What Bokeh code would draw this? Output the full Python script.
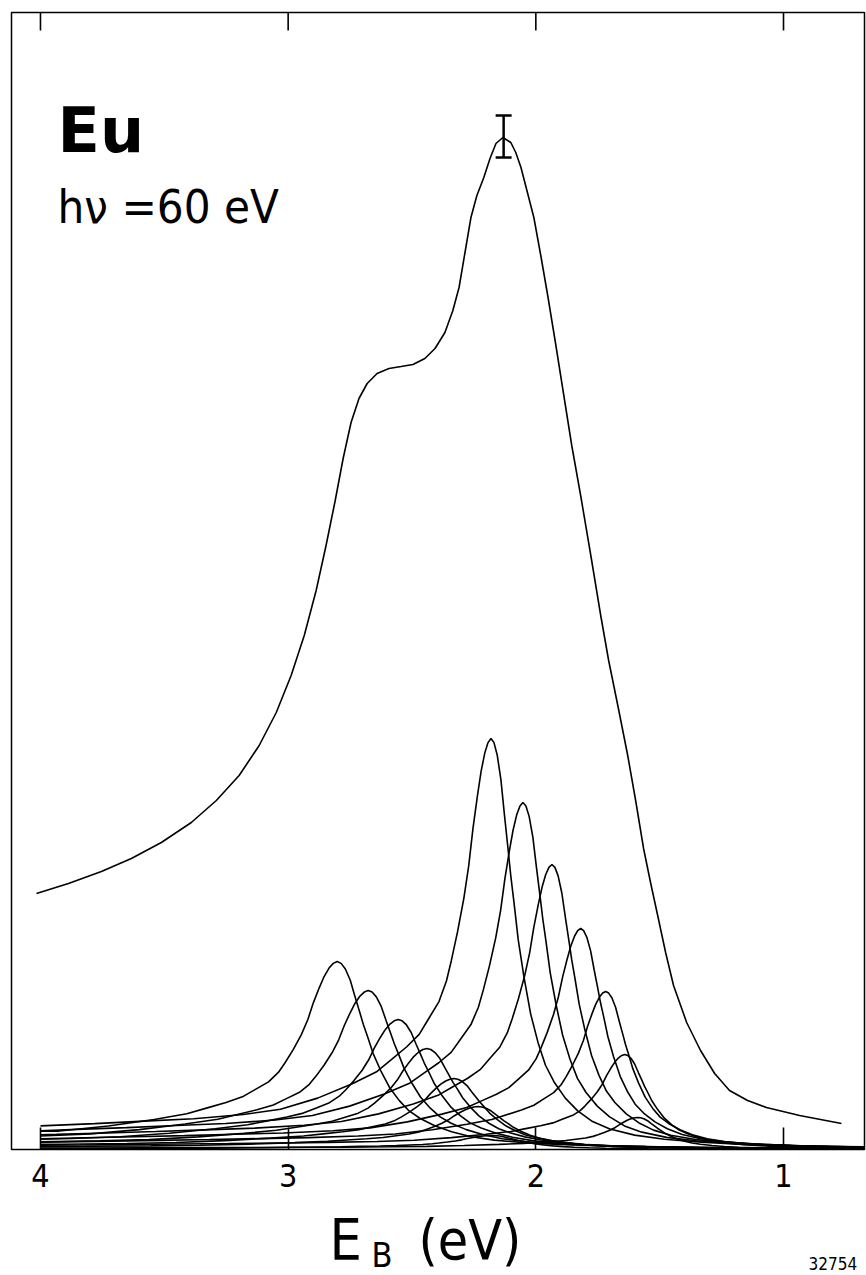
from bokeh.plotting import figure
from bokeh.layouts import column
from bokeh.models import Range1d, FixedTicker, Label, Whisker, TeeHead, ColumnDataSource
from bokeh.embed import file_html
from bokeh.resources import INLINE

# ---------------- data ----------------
# total spectrum (binding energy in eV, intensity in arbitrary units)
ENVELOPE_EB = [4.016, 3.887, 3.754, 3.633, 3.512, 3.391, 3.290, 3.198, 3.117, 3.048,
               2.988, 2.935, 2.887, 2.847, 2.810, 2.778, 2.746, 2.714, 2.681, 2.641,
               2.593, 2.544, 2.496, 2.448, 2.407, 2.367, 2.335, 2.310, 2.286, 2.262,
               2.238, 2.210, 2.185, 2.161, 2.133, 2.101, 2.081, 2.060, 2.036, 2.008,
               1.980, 1.952, 1.919, 1.887, 1.855, 1.819, 1.778, 1.738, 1.706, 1.669,
               1.629, 1.597, 1.565, 1.536, 1.508, 1.476, 1.444, 1.391, 1.335, 1.278,
               1.218, 1.145, 1.069, 0.935, 0.766]
ENVELOPE_I = [25.6, 26.6, 27.8, 29.1, 30.7, 32.7, 34.9, 37.4, 40.4, 43.7,
              47.4, 51.4, 55.9, 60.4, 64.9, 69.1, 72.7, 75.1, 76.6, 77.6,
              78.1, 78.3, 78.5, 79.1, 80.1, 81.7, 83.9, 86.2, 89.7, 93.2,
              95.4, 97.2, 99.1, 100.6, 101.2, 100.7, 99.7, 98.2, 95.9, 93.2,
              89.4, 85.4, 80.4, 75.4, 70.4, 65.4, 59.4, 53.4, 48.9, 44.4,
              39.4, 34.9, 30.1, 26.6, 23.4, 19.7, 16.4, 12.7, 9.9, 7.6,
              5.9, 4.9, 4.2, 3.4, 2.6]

# common multiplet line profile read off the largest component
# (offset from the line position in eV, + = higher binding energy; fraction of peak height)
PROFILE_DE = [2.8, 2.6, 2.4, 2.2, 2.0, 1.8, 1.6, 1.4, 1.2, 1.0, 0.85, 0.7, 0.56, 0.46,
              0.40, 0.34, 0.29, 0.25, 0.21, 0.18, 0.16, 0.135, 0.11, 0.09, 0.073,
              0.055, 0.04, 0.025, 0.012, 0.0, -0.012, -0.025, -0.04, -0.055, -0.069,
              -0.08, -0.093, -0.11, -0.133, -0.16, -0.19, -0.22, -0.254, -0.3, -0.35,
              -0.41, -0.48, -0.58, -0.7, -0.85, -1.0, -1.3, -1.7, -2.5]
PROFILE_F = [0.040, 0.042, 0.045, 0.048, 0.053, 0.058, 0.063, 0.069, 0.075, 0.085,
             0.098, 0.125, 0.16, 0.19, 0.22, 0.25, 0.28, 0.32, 0.36, 0.41, 0.46,
             0.53, 0.61, 0.69, 0.78, 0.86, 0.92, 0.965, 0.99, 1.0, 0.99, 0.96, 0.90,
             0.81, 0.73, 0.665, 0.60, 0.51, 0.42, 0.33, 0.26, 0.205, 0.165, 0.125,
             0.094, 0.068, 0.05, 0.035, 0.025, 0.018, 0.013, 0.008, 0.005, 0.003]

# bulk 7F_J multiplet lines
BULK_EB = [2.181, 2.052, 1.935, 1.819, 1.718, 1.641, 1.589]
BULK_H = [41.1, 34.7, 28.5, 22.1, 15.8, 9.5, 3.2]
BULK_EDGE = [2.36, 1.87, 1.47, 1.07, 0.74, 0.43, 0.14]   # height at 4 eV
BULK_WIDTH = 1.0

# surface 7F_J multiplet lines
SURF_EB = [2.802, 2.677, 2.556, 2.440, 2.331, 2.234, 2.180]
SURF_H = [18.8, 15.9, 13.0, 10.1, 7.1, 4.3, 1.4]
SURF_EDGE = [1.82, 1.35, 1.04, 0.77, 0.52, 0.30, 0.10]
SURF_WIDTH = 1.32

EDGE_EB = 4.0
ERR_EB = [2.13]
ERR_LO = [99.2]
ERR_HI = [103.4]

XTICKS = [4, 3, 2, 1]
X_START, X_END = 4.117, 0.673
Y_TOP = 113.7
TOP_TICK_LEN = 1.8

FONT = "DejaVu Sans Condensed"

# ---------------- main figure ----------------
p = figure(width=866, height=1205, output_backend="svg", toolbar_location=None,
           x_range=Range1d(X_START, X_END), y_range=Range1d(0, Y_TOP),
           y_axis_location=None,
           min_border_left=11, min_border_right=2, min_border_top=12, min_border_bottom=56)
p.grid.visible = False
p.outline_line_color = "black"
p.outline_line_width = 1.5
p.outline_line_alpha = 1.0
p.background_fill_color = "white"
p.border_fill_color = "white"

ax = p.xaxis[0]
ax.ticker = FixedTicker(ticks=XTICKS)
ax.major_tick_in = 22
ax.major_tick_out = 0
ax.major_tick_line_width = 1.6
ax.minor_tick_line_color = None
ax.axis_line_color = None
ax.major_label_text_font = FONT
ax.major_label_text_font_size = "32px"
ax.major_label_text_color = "black"
ax.major_label_standoff = 14

# inward ticks on the top edge
p.segment(x0=XTICKS, y0=[Y_TOP] * len(XTICKS), x1=XTICKS, y1=[Y_TOP - TOP_TICK_LEN] * len(XTICKS),
          line_color="black", line_width=1.6)

# components
xs, ys = [], []
for eb_list, h_list, edge_list, w in ((BULK_EB, BULK_H, BULK_EDGE, BULK_WIDTH),
                                       (SURF_EB, SURF_H, SURF_EDGE, SURF_WIDTH)):
    for eb, h, edge in zip(eb_list, h_list, edge_list):
        cx, cy = [EDGE_EB], [edge]
        for de, f in zip(PROFILE_DE, PROFILE_F):
            x = eb + de * w
            if x < EDGE_EB - 0.03:
                cx.append(x)
                cy.append(h * f)
        xs.append(cx)
        ys.append(cy)
p.multi_line(xs, ys, line_color="black", line_width=1.6)

# total spectrum
p.line(ENVELOPE_EB, ENVELOPE_I, line_color="black", line_width=1.6)

# error bar
src = ColumnDataSource(dict(base=ERR_EB, lower=ERR_LO, upper=ERR_HI))
p.add_layout(Whisker(source=src, base="base", lower="lower", upper="upper", dimension="height",
                     line_width=2.5, line_color="black",
                     upper_head=TeeHead(size=16, line_width=2.5, line_color="black"),
                     lower_head=TeeHead(size=16, line_width=2.5, line_color="black")))

# texts inside the frame
p.add_layout(Label(x=3.931, y=101.9, text="Eu", text_font="DejaVu Sans", text_font_style="bold",
                   text_font_size="62px", text_baseline="alphabetic", text_color="black"))
p.add_layout(Label(x=3.931, y=94.3, text="hν =60 eV", text_font=FONT,
                   text_font_size="47px", text_baseline="alphabetic", text_color="black"))

# ---------------- strip below for the axis title ----------------
q = figure(width=866, height=70, output_backend="svg", toolbar_location=None,
           x_range=Range1d(0, 1), y_range=Range1d(0, 1),
           x_axis_location=None, y_axis_location=None, title_location=None, min_border=0)
q.grid.visible = False
q.outline_line_color = None
q.background_fill_color = "white"
q.border_fill_color = "white"

q.add_layout(Label(x=318, y=36, x_units="screen", y_units="screen", text="E", text_font=FONT,
                   text_font_size="57px", text_baseline="alphabetic", text_color="black"))
q.add_layout(Label(x=360, y=21, x_units="screen", y_units="screen", text="B", text_font=FONT,
                   text_font_size="34px", text_baseline="alphabetic", text_color="black"))
q.add_layout(Label(x=407, y=36, x_units="screen", y_units="screen", text="(eV)", text_font=FONT,
                   text_font_size="55px", text_baseline="alphabetic", text_color="black"))
q.add_layout(Label(x=797, y=12, x_units="screen", y_units="screen", text="32754", text_font=FONT,
                   text_font_size="17px", text_align="left", text_baseline="alphabetic",
                   text_color="black"))

layout = column(p, q, spacing=0)
open("out.html", "w").write(file_html(layout, INLINE))
